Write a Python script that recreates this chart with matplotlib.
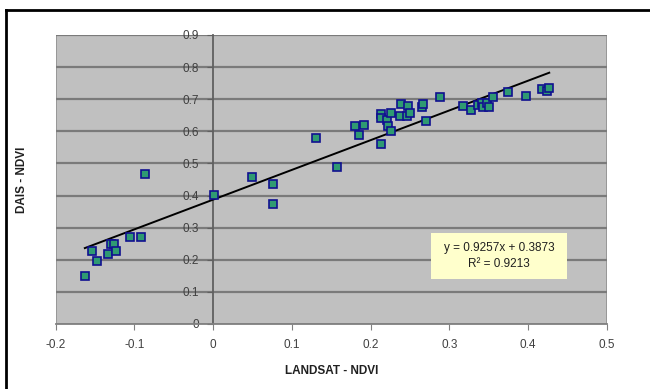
import matplotlib
matplotlib.use('Agg')
import matplotlib.pyplot as plt
from matplotlib.patches import Rectangle
from matplotlib.lines import Line2D
import numpy as np

plt.rcParams['font.family'] = ['Liberation Sans', 'DejaVu Sans']

# LANDSAT NDVI vs DAIS NDVI
landsat = [-0.163, -0.154, -0.147, -0.133, -0.130, -0.126, -0.124, -0.105, -0.092, -0.087,
           0.001, 0.049, 0.076, 0.076,
           0.131, 0.158, 0.180, 0.185, 0.192, 0.213, 0.213, 0.213, 0.221, 0.222,
           0.226, 0.226, 0.237, 0.239, 0.246, 0.247, 0.250, 0.265, 0.267, 0.270, 0.288,
           0.318, 0.327, 0.337, 0.341, 0.343, 0.348, 0.351, 0.356, 0.375, 0.398,
           0.418, 0.424, 0.427]
dais = [0.150, 0.228, 0.196, 0.219, 0.250, 0.248, 0.227, 0.271, 0.271, 0.467,
        0.402, 0.457, 0.436, 0.374,
        0.578, 0.488, 0.617, 0.588, 0.619, 0.561, 0.653, 0.640, 0.635, 0.618,
        0.656, 0.602, 0.648, 0.684, 0.648, 0.679, 0.656, 0.676, 0.684, 0.632, 0.708,
        0.679, 0.667, 0.682, 0.689, 0.677, 0.688, 0.677, 0.708, 0.723, 0.710,
        0.731, 0.725, 0.736]

# linear trend as printed on the chart
slope = 0.9257
intercept = 0.3873
r2 = 0.9213

x_ticks = [-0.2, -0.1, 0, 0.1, 0.2, 0.3, 0.4, 0.5]
y_ticks = [0, 0.1, 0.2, 0.3, 0.4, 0.5, 0.6, 0.7, 0.8, 0.9]

fig = plt.figure(figsize=(6.5, 3.89), dpi=100)
ax = fig.add_axes([55.7 / 650, 1 - 324 / 389, 551 / 650, 289 / 389])
ax.set_facecolor('#c0c0c0')

ax.set_xlim(-0.2, 0.5)
ax.set_ylim(0, 0.9)
ax.set_xticks(x_ticks)
ax.set_yticks(y_ticks)
ax.set_xticklabels(['-0.2', '-0.1', '0', '0.1', '0.2', '0.3', '0.4', '0.5'])
ax.set_yticklabels(['0', '0.1', '0.2', '0.3', '0.4', '0.5', '0.6', '0.7', '0.8', '0.9'])

# horizontal gridlines
for yv in y_ticks[1:]:
    ax.axhline(yv, color='#7a7a7a', lw=1.6, zorder=1)

# y axis crosses at x = 0
ax.spines['left'].set_position(('data', 0))
ax.spines['left'].set_color('#606060')
ax.spines['left'].set_linewidth(1.3)
ax.spines['bottom'].set_color('#808080')
ax.spines['bottom'].set_linewidth(1.3)
ax.spines['top'].set_visible(False)
ax.spines['right'].set_visible(False)
ax.add_patch(Rectangle((0, 0), 1, 1, transform=ax.transAxes, fill=False,
                       ec='#909090', lw=1.2, zorder=0.5))

ax.tick_params(axis='x', direction='out', length=4, color='#808080', labelsize=8.5,
               labelcolor='#404040', pad=7)
ax.tick_params(axis='y', direction='out', length=4, color='#606060', labelsize=8.5,
               labelcolor='#404040', pad=6)

# points
ax.plot(landsat, dais, ls='none', marker='s', ms=5.2, mfc='#2f9a72', mec='#101090',
        mew=1.2, zorder=4, clip_on=False)

# trend line over data range
xt = np.array([min(landsat), max(landsat)])
ax.plot(xt, slope * xt + intercept, color='black', lw=1.4, zorder=3)

# equation label box
ax.add_patch(Rectangle((0.277, 0.139), 0.173, 0.145, fc='#ffffcc', ec='none', zorder=5))
ax.text(0.3635, 0.2115, 'y = %.4fx + %.4f\nR² = %.4f' % (slope, intercept, r2),
        ha='center', va='center', fontsize=8.5, color='#202020', linespacing=1.5, zorder=6)

ax.set_xlabel('LANDSAT - NDVI', fontsize=8.5, fontweight='bold', color='#202020', labelpad=10)
fig.text(22 / 650, 1 - 180 / 389, 'DAIS - NDVI', rotation=90, ha='center', va='center',
         fontsize=8.5, fontweight='bold', color='#202020')

# outer frame (cut off on right and bottom)
fig.add_artist(Line2D([6 / 650, 6 / 650], [0, 1 - 10 / 389], transform=fig.transFigure,
                      color='black', lw=2))
fig.add_artist(Line2D([6 / 650, 1], [1 - 10 / 389, 1 - 10 / 389], transform=fig.transFigure,
                      color='black', lw=2))

fig.savefig('out.png', dpi=100, facecolor='white')
